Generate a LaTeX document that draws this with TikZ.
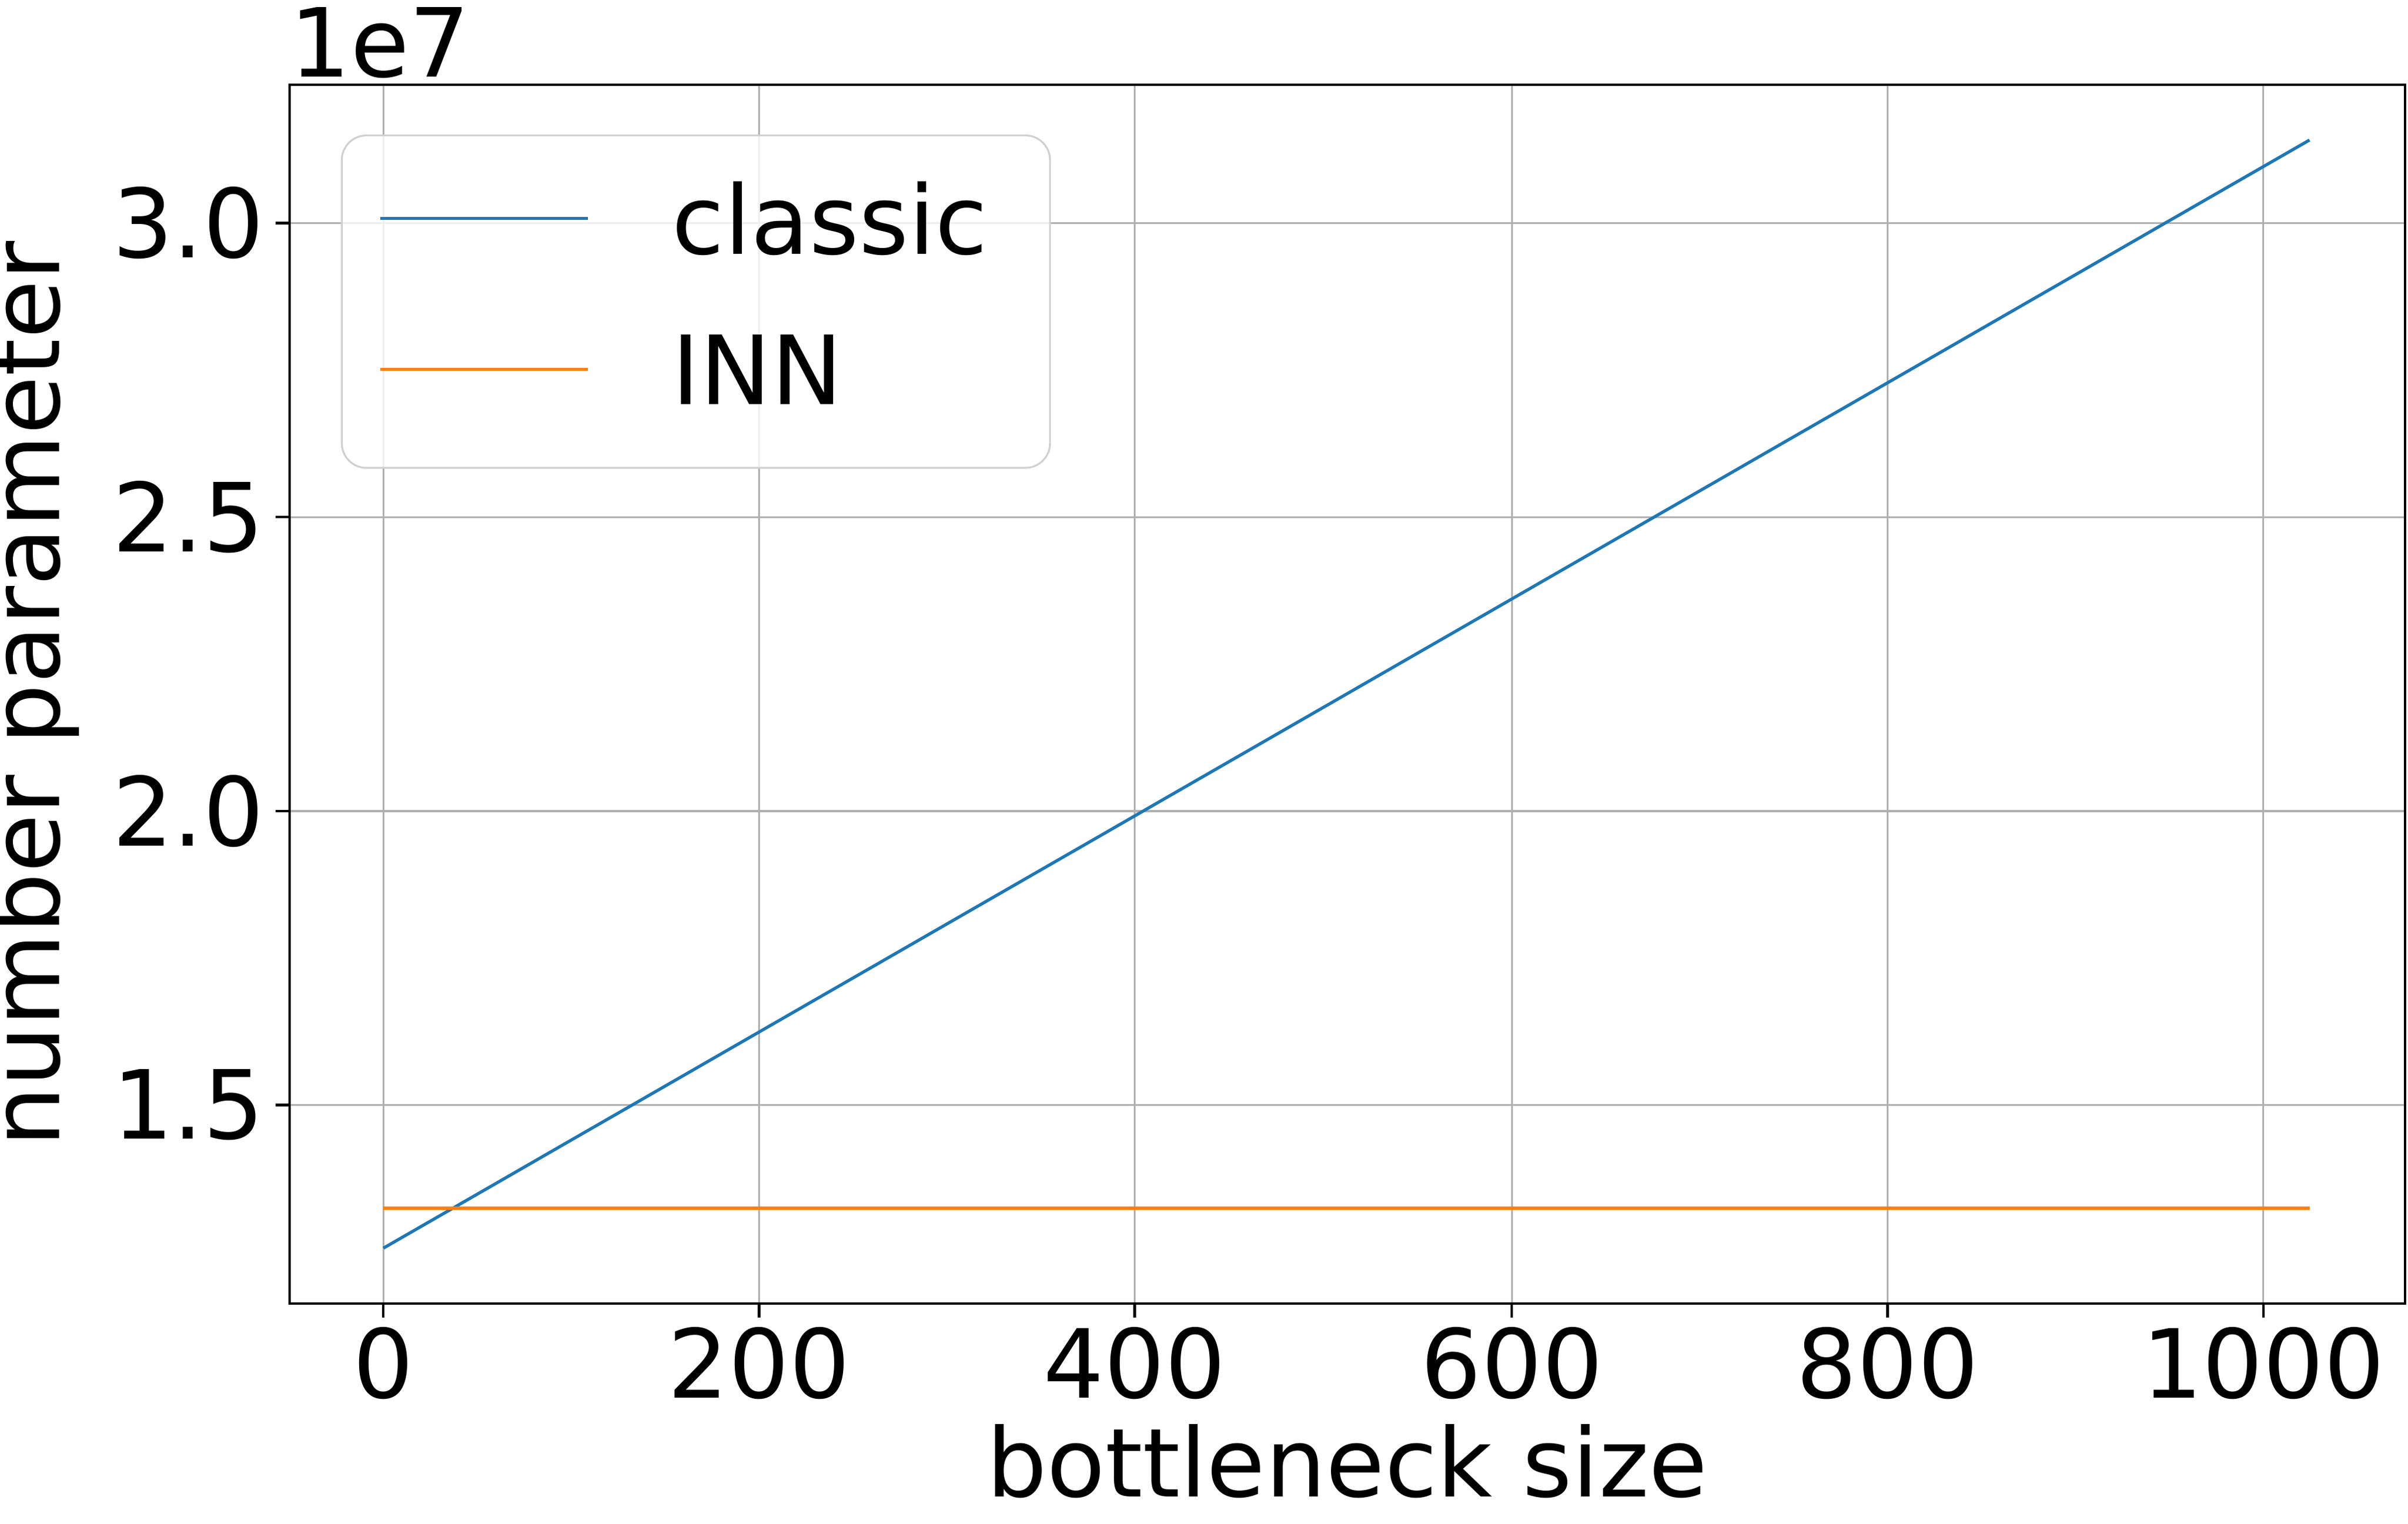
\documentclass[tikz,border=0pt]{standalone}
\usepackage{fontspec}
\setmainfont{DejaVu Sans}
\usetikzlibrary{positioning}
\definecolor{classicblue}{HTML}{1F77B4}
\definecolor{innorange}{HTML}{FF7F0E}
\definecolor{gridgray}{HTML}{B0B0B0}
\tikzset{
  ticklabel/.style={font=\fontsize{31}{37}\selectfont, inner sep=0pt},
  gridline/.style={gridgray, line width=0.6pt},
  spine/.style={black, line width=0.8pt},
  series/.style={line width=1pt}
}
\begin{document}
\begin{tikzpicture}[x=0.5pt,y=-0.5pt]
  \useasboundingbox (0,0) rectangle (1564,990);
  % grid
  \foreach \xv/\xl in {249/0,493/200,737/400,982/600,1226/800,1470/1000}{
    \draw[gridline] (\xv,55) -- (\xv,847);
    \draw[spine] (\xv,847) -- (\xv,856);
    \node[ticklabel, anchor=north] (xt\xl) at (\xv,862) {\xl};
  }
  \foreach \yv/\yl in {718/1.5,527/2.0,336/2.5,145/3.0}{
    \draw[gridline] (188,\yv) -- (1562,\yv);
    \draw[spine] (188,\yv) -- (179,\yv);
    \node[ticklabel, anchor=east] (yt\yl) at (172,\yv) {\yl};
  }
  % axes box
  \draw[spine] (188,55) rectangle (1562,847);
  \node[ticklabel, anchor=base west] (offset) at (188,50) {1e7};
  \node[ticklabel, anchor=north] (xlabel) at (875,925) {bottleneck size};
  \node[ticklabel, rotate=90, anchor=south] (ylabel) at (52,451) {number parameter};
  % data
  \coordinate (c0) at (249,811);
  \coordinate (c1) at (1500,91);
  \coordinate (i0) at (249,785);
  \coordinate (i1) at (1500,785);
  \draw[series, classicblue] (c0) -- (c1);
  \draw[series, innorange] (i0) -- (i1);
  % legend
  \draw[draw=gridgray!60, fill=white, fill opacity=0.8, rounded corners=8pt, line width=0.6pt] (222,88) rectangle (682,304);
  \coordinate (la) at (247,142);
  \coordinate (lb) at (382,142);
  \coordinate (lc) at (247,240);
  \coordinate (ld) at (382,240);
  \draw[series, classicblue] (la) -- (lb);
  \draw[series, innorange] (lc) -- (ld);
  \node[ticklabel, anchor=west] (lclassic) at (436,142) {classic};
  \node[ticklabel, anchor=west] (linn) at (436,240) {INN};
\end{tikzpicture}
\end{document}
